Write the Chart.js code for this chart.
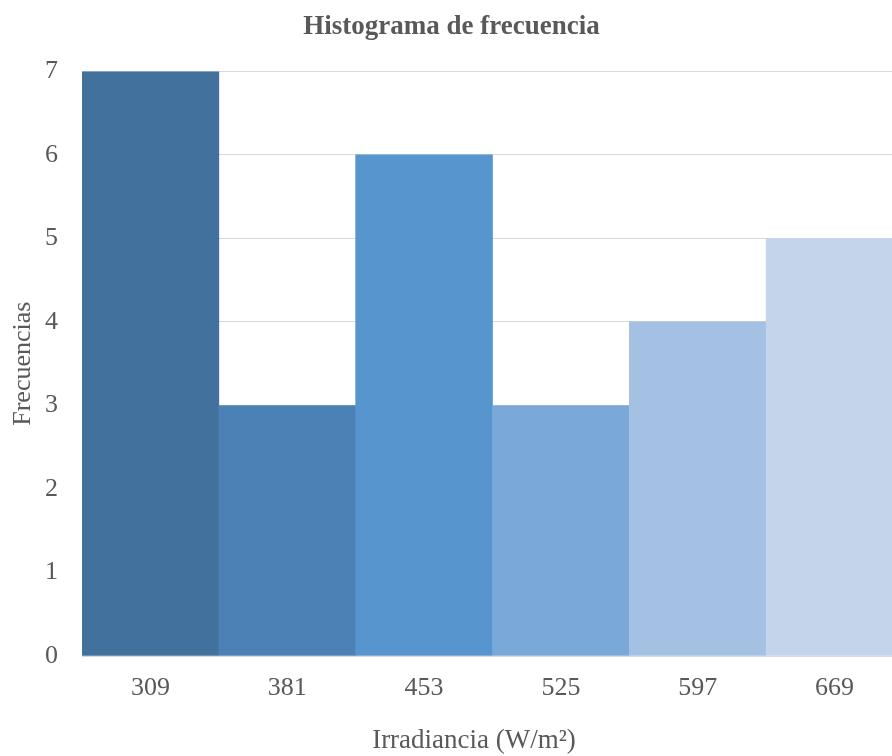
<!DOCTYPE html>
<html>
<head>
<meta charset="utf-8">
<script src="https://cdn.jsdelivr.net/npm/chart.js@4/dist/chart.umd.min.js"></script>
<style>
  html, body { margin: 0; padding: 0; background: #fff; overflow: hidden; }
  #wrap { width: 906px; height: 756px; }
</style>
</head>
<body>
<div id="wrap"><canvas id="histo" width="906" height="756"></canvas></div>
<script>
// --- DATOS ---
const categorias = ['309', '381', '453', '525', '597', '669'];
const frecuencias = [7, 3, 6, 3, 4, 5];
const coloresBarras = ['#42719e', '#4c81b5', '#5795ce', '#7aa9d9', '#a4c0e3', '#c4d5eb'];

const TEXTO = '#595959';
const FUENTE = "'Liberation Serif', 'Times New Roman', serif";

// titulo del eje X dibujado a mano (centrado como en el original)
const tituloEjeX = {
    id: 'tituloEjeX',
    afterDraw(chart) {
        const ctx = chart.ctx;
        ctx.save();
        ctx.fillStyle = TEXTO;
        ctx.font = '27px ' + FUENTE;
        ctx.textAlign = 'center';
        ctx.textBaseline = 'middle';
        ctx.fillText('Irradiancia (W/m²)', 474, 741);
        ctx.restore();
    }
};

new Chart(document.getElementById('histo'), {
    type: 'bar',
    data: {
        labels: categorias,
        datasets: [{
            data: frecuencias,
            backgroundColor: coloresBarras,
            borderWidth: 0,
            barPercentage: 1,
            categoryPercentage: 1
        }]
    },
    options: {
        responsive: false,
        animation: false,
        layout: { padding: { left: 0, right: 3, top: 0, bottom: 55 } },
        plugins: {
            legend: { display: false },
            tooltip: { enabled: false },
            title: {
                display: true,
                text: 'Histograma de frecuencia',
                color: TEXTO,
                font: { family: FUENTE, size: 27, weight: 'bold' },
                padding: { top: 11, bottom: 28 }
            }
        },
        scales: {
            x: {
                grid: { display: false, drawTicks: false },
                border: { display: true, color: '#d9d9d9', width: 1 },
                ticks: { color: TEXTO, font: { family: FUENTE, size: 26 }, padding: 17, maxRotation: 0 },
                afterFit(scale) { scale.height = 45; }
            },
            y: {
                min: 0,
                max: 7,
                grid: { color: '#d9d9d9', lineWidth: 1, drawTicks: false },
                border: { display: false },
                ticks: { stepSize: 1, color: TEXTO, font: { family: FUENTE, size: 26 }, padding: 24 },
                title: {
                    display: true,
                    text: 'Frecuencias',
                    color: TEXTO,
                    font: { family: FUENTE, size: 26 },
                    padding: { top: 8, bottom: 6 }
                },
                afterFit(scale) { scale.width = 82; }
            }
        }
    },
    plugins: [tituloEjeX]
});
</script>
</body>
</html>
